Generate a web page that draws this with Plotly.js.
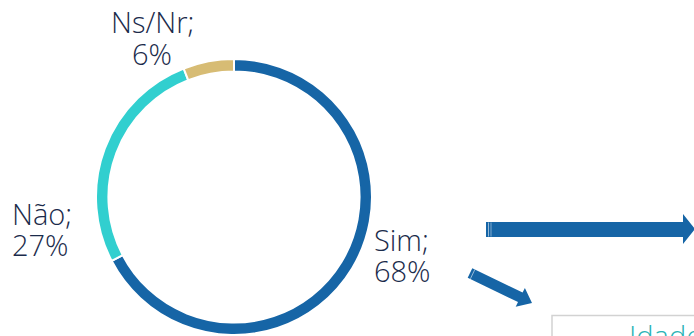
<!DOCTYPE html>
<html>
<head>
<meta charset="utf-8">
<script src="https://cdn.plot.ly/plotly-3.0.1.min.js"></script>
<style>html,body{margin:0;padding:0;background:#fff;}#chart{width:694px;height:336px;}</style>
</head>
<body>
<div id="chart"></div>
<script>
// ---- data ----
const labels = ['Sim', 'Não', 'Ns/Nr'];
const values = [68, 27, 6];
const colors = ['#1665a6', '#31cfcf', '#d7bc74'];
const boxTitle = 'Idade';

// ---- helpers (pixel -> paper) ----
const W = 694, H = 336;
const px = x => x / W;
const py = y => 1 - y / H;
function path(pts) {
  return 'M ' + pts.map(p => px(p[0]) + ',' + py(p[1])).join(' L ') + ' Z';
}

const labelFont = {family: 'Open Sans', size: 29, weight: 300, color: '#1b2b4b'};
// label anchor positions (pixel) for each slice: [x, yLine1, yLine2, xanchor]
const labelPos = [
  [372, 239, 270, 'left'],
  [10, 213, 244, 'left'],
  [152, 22, 53, 'center']
];

const annotations = [];
labels.forEach((lab, i) => {
  const p = labelPos[i];
  annotations.push({xref: 'paper', yref: 'paper', x: px(p[0]), y: py(p[1]), xanchor: p[3], yanchor: 'middle',
    text: lab + ';', showarrow: false, font: labelFont});
  annotations.push({xref: 'paper', yref: 'paper', x: px(p[0]), y: py(p[2]), xanchor: p[3], yanchor: 'middle',
    text: values[i] + '%', showarrow: false, font: labelFont});
});
annotations.push({xref: 'paper', yref: 'paper', x: px(627), y: py(314), xanchor: 'left', yanchor: 'top',
  text: boxTitle, showarrow: false, font: {family: 'Open Sans', size: 29, weight: 300, color: '#2bb3b6'}});

// arrow geometry
const hArrow = [[486,222],[683,222],[683,214],[695,229],[683,244],[683,237],[486,237]];
const dArrow = [[467.7,277.8],[472.3,268.2],[522.6,292.5],[524.9,287.9],[532,303],[515.7,306.7],[518.0,302.1]];

const shapes = [
  {type: 'path', xref: 'paper', yref: 'paper', path: path(hArrow), fillcolor: '#1665a6', line: {width: 0}},
  {type: 'path', xref: 'paper', yref: 'paper', path: path(dArrow), fillcolor: '#1665a6', line: {width: 0}},
  {type: 'line', xref: 'paper', yref: 'paper', x0: px(488.5), x1: px(488.5), y0: py(222.5), y1: py(236.5), line: {color: 'rgba(255,255,255,0.55)', width: 1}},
  {type: 'line', xref: 'paper', yref: 'paper', x0: px(491), x1: px(491), y0: py(222.5), y1: py(236.5), line: {color: 'rgba(255,255,255,0.45)', width: 1}},
  {type: 'line', xref: 'paper', yref: 'paper', x0: px(470.4), x1: px(474.8), y0: py(278.8), y1: py(269.6), line: {color: 'rgba(255,255,255,0.55)', width: 1}},
  {type: 'rect', xref: 'paper', yref: 'paper', x0: px(552), x1: 1.05, y0: py(315.5), y1: -0.1, line: {color: '#d2d2d2', width: 1.5}, fillcolor: 'rgba(0,0,0,0)'}
];

const trace = {
  type: 'pie',
  labels: labels,
  values: values,
  marker: {colors: colors, line: {color: '#ffffff', width: 2}},
  hole: 0.91,
  sort: false,
  direction: 'clockwise',
  rotation: 0,
  textinfo: 'none',
  hoverinfo: 'label+percent',
  domain: {x: [px(96), px(372)], y: [py(335), py(59)]}
};

const layout = {
  width: W, height: H,
  margin: {l: 0, r: 0, t: 0, b: 0},
  paper_bgcolor: '#ffffff',
  showlegend: false,
  annotations: annotations,
  shapes: shapes
};

Plotly.newPlot('chart', [trace], layout, {displayModeBar: false, staticPlot: true});
</script>
</body>
</html>
